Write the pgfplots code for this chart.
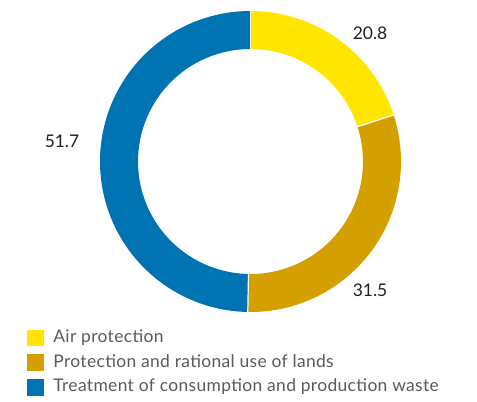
\documentclass[border=0pt]{standalone}
\usepackage{pgfplots}
\usepackage{pgfplotstable}
\pgfplotsset{compat=1.18}
\usepackage{fontspec}
\setmainfont{Lato}
\newfontfamily\legfont{Lato}[LetterSpace=2.0]
\definecolor{cAir}{HTML}{FFE500}
\definecolor{cLand}{HTML}{D4A000}
\definecolor{cWaste}{HTML}{0073B3}
\definecolor{legtext}{HTML}{5A5A5A}
\pgfplotstableread{
label value
Air 20.8
Lands 31.5
Waste 51.7
}\datatable
\pgfplotstablegetelem{0}{value}\of\datatable \let\va\pgfplotsretval
\pgfplotstablegetelem{1}{value}\of\datatable \let\vb\pgfplotsretval
\pgfplotstablegetelem{2}{value}\of\datatable \let\vc\pgfplotsretval
\pgfmathsetmacro{\tot}{\va+\vb+\vc}
\pgfmathsetmacro{\aA}{90}
\pgfmathsetmacro{\aB}{90-\va/\tot*360}
\pgfmathsetmacro{\aC}{\aB-\vb/\tot*360}
\pgfmathsetmacro{\aD}{\aC-\vc/\tot*360}
\def\cx{250.5}
\def\cy{239.5}
\def\rm{131.5}
\begin{document}
\begin{tikzpicture}
\begin{axis}[
  x=1bp, y=1bp, xmin=0, xmax=477, ymin=0, ymax=401,
  scale only axis, hide axis, clip=false,
  legend style={draw=none, fill=none, at={(axis cs:27.3,71.7)}, anchor=north west,
    font=\legfont\fontsize{17.5}{20}\selectfont\color{legtext}, inner sep=0pt,
    nodes={inner sep=0pt, text height=13bp, text depth=4bp},
    row sep=7.7bp, cells={anchor=west}},
  legend image code/.code={\fill[#1,draw=none] (0bp,-8.35bp) rectangle (16.7bp,8.35bp); \path (25.7bp,0bp);},
]
\addplot[draw=none, forget plot] coordinates {(0,0) (477,401)};
\addplot[draw=cAir, line width=38bp, line cap=butt, domain=\aA:\aB, samples=80, variable=\t, forget plot] ({\cx+\rm*cos(\t)},{\cy+\rm*sin(\t)});
\addplot[draw=cLand, line width=38bp, line cap=butt, domain=\aB:\aC, samples=100, variable=\t, forget plot] ({\cx+\rm*cos(\t)},{\cy+\rm*sin(\t)});
\addplot[draw=cWaste, line width=38bp, line cap=butt, domain=\aC:\aD, samples=160, variable=\t, forget plot] ({\cx+\rm*cos(\t)},{\cy+\rm*sin(\t)});
\foreach \ang in {\aA,\aB,\aC}{
  \addplot[draw=white, line width=1.2bp, domain=110:153, samples=2, variable=\t, forget plot] ({\cx+\t*cos(\ang)},{\cy+\t*sin(\ang)});
}
\node[font=\fontsize{17.5}{20}\selectfont, text=black!88] at (axis cs:370,368) {20.8};
\node[font=\fontsize{17.5}{20}\selectfont, text=black!88] at (axis cs:370,111) {31.5};
\node[font=\fontsize{17.5}{20}\selectfont, text=black!88] at (axis cs:62,260) {51.7};
\addlegendimage{fill=cAir}
\addlegendentry{Air protection}
\addlegendimage{fill=cLand}
\addlegendentry{Protection and rational use of lands}
\addlegendimage{fill=cWaste}
\addlegendentry{Treatment of consumption and production waste}
\end{axis}
\end{tikzpicture}
\end{document}
